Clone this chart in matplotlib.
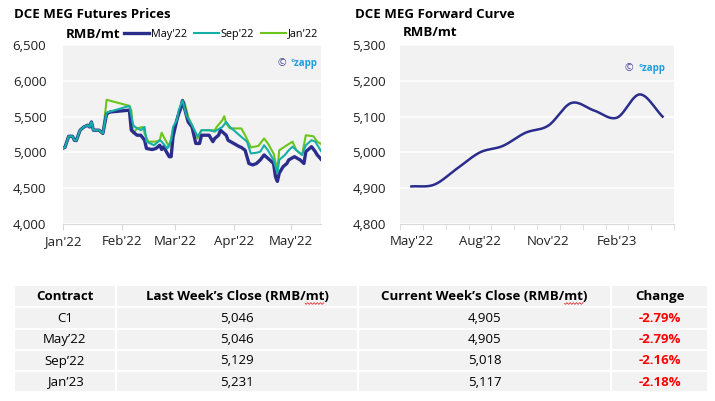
import matplotlib
matplotlib.use("Agg")
import matplotlib.pyplot as plt
import matplotlib.dates as mdates
from matplotlib.patches import Rectangle
from matplotlib.font_manager import FontProperties
import numpy as np
import pandas as pd

plt.rcParams['font.family'] = ['Open Sans', 'DejaVu Sans']

# ---- left chart: futures prices (RMB/mt) ----
early_dates = ['2022-01-01', '2022-01-02', '2022-01-04', '2022-01-06', '2022-01-07', '2022-01-08',
               '2022-01-10', '2022-01-12', '2022-01-14', '2022-01-15', '2022-01-16', '2022-01-17',
               '2022-01-20', '2022-01-22']
early_vals = [5060, 5070, 5225, 5225, 5170, 5165, 5310, 5355, 5380, 5355, 5425, 5310, 5310, 5265]

may22_dates = ['2022-01-24', '2022-01-26', '2022-02-05', '2022-02-06', '2022-02-07', '2022-02-09',
               '2022-02-11', '2022-02-13', '2022-02-14', '2022-02-17', '2022-02-19', '2022-02-21',
               '2022-02-22', '2022-02-23', '2022-02-25', '2022-02-26', '2022-02-27', '2022-02-28',
               '2022-03-02', '2022-03-03', '2022-03-04', '2022-03-05', '2022-03-07', '2022-03-08',
               '2022-03-10', '2022-03-12', '2022-03-14', '2022-03-15', '2022-03-19', '2022-03-21',
               '2022-03-22', '2022-03-24', '2022-03-25', '2022-03-28', '2022-03-29', '2022-04-01',
               '2022-04-04', '2022-04-05', '2022-04-07', '2022-04-09', '2022-04-11', '2022-04-13',
               '2022-04-15', '2022-04-17', '2022-04-18', '2022-04-20', '2022-04-22', '2022-04-23',
               '2022-04-24', '2022-04-25', '2022-04-27', '2022-04-29', '2022-04-30', '2022-05-03',
               '2022-05-06', '2022-05-08', '2022-05-09', '2022-05-12', '2022-05-14', '2022-05-15',
               '2022-05-17']
may22_vals = [5540, 5565, 5590, 5310, 5285, 5240,
              5240, 5170, 5055, 5040, 5055, 5100,
              5040, 5080, 4985, 4940, 4940, 5220,
              5450, 5540, 5610, 5725, 5520, 5425,
              5355, 5125, 5125, 5240, 5240, 5150,
              5195, 5240, 5310, 5240, 5170, 5125,
              5080, 5070, 5030, 4845, 4825, 4845,
              4895, 4965, 4940, 4895, 4845, 4660,
              4595, 4710, 4800, 4845, 4895, 4940,
              4895, 4845, 5010, 5080, 5010, 4965,
              4905]

sep22_dates = ['2022-01-24', '2022-02-05', '2022-02-07', '2022-02-08', '2022-02-11', '2022-02-13',
               '2022-02-14', '2022-02-18', '2022-02-21', '2022-02-22', '2022-02-25', '2022-02-27',
               '2022-02-28', '2022-03-02', '2022-03-03', '2022-03-05', '2022-03-07', '2022-03-10',
               '2022-03-13', '2022-03-15', '2022-03-19', '2022-03-22', '2022-03-23', '2022-03-26',
               '2022-03-28', '2022-03-30', '2022-04-01', '2022-04-04', '2022-04-08', '2022-04-10',
               '2022-04-13', '2022-04-15', '2022-04-17', '2022-04-19', '2022-04-22', '2022-04-24',
               '2022-04-25', '2022-04-28', '2022-04-30', '2022-05-02', '2022-05-04', '2022-05-07',
               '2022-05-09', '2022-05-12', '2022-05-14', '2022-05-17']
sep22_vals = [5555, 5650, 5380, 5355, 5310, 5355,
              5150, 5100, 5170, 5150, 5055, 5170,
              5355, 5450, 5590, 5725, 5520, 5380,
              5220, 5310, 5310, 5290, 5310, 5355,
              5425, 5355, 5310, 5240, 5150, 4985,
              4995, 5010, 5100, 5030, 4895, 4710,
              4895, 4965, 5030, 5080, 5030, 4965,
              5100, 5170, 5150, 5018]

jan23_dates = ['2022-01-24', '2022-02-05', '2022-02-06', '2022-02-07', '2022-02-09', '2022-02-12',
               '2022-02-13', '2022-02-15', '2022-02-19', '2022-02-21', '2022-02-22', '2022-02-24',
               '2022-02-26', '2022-02-28', '2022-03-02', '2022-03-04', '2022-03-06', '2022-03-08',
               '2022-03-10', '2022-03-13', '2022-03-15', '2022-03-22', '2022-03-23', '2022-03-26',
               '2022-03-27', '2022-03-28', '2022-03-30', '2022-04-05', '2022-04-07', '2022-04-10',
               '2022-04-14', '2022-04-17', '2022-04-19', '2022-04-22', '2022-04-24', '2022-04-25',
               '2022-04-29', '2022-05-02', '2022-05-04', '2022-05-07', '2022-05-09', '2022-05-13',
               '2022-05-15', '2022-05-17']
jan23_vals = [5735, 5650, 5590, 5265, 5335, 5355,
              5265, 5150, 5150, 5170, 5275, 5170,
              5080, 5310, 5450, 5635, 5705, 5495,
              5380, 5195, 5310, 5310, 5355, 5450,
              5505, 5405, 5335, 5335, 5240, 5070,
              5090, 5195, 5125, 4985, 4755, 5030,
              5100, 5150, 5030, 4965, 5240, 5225,
              5150, 5117]

series_labels = ["May'22", "Sep'22", "Jan'22"]
month_ticks = ['2022-01-01', '2022-02-01', '2022-03-01', '2022-04-01', '2022-05-01']

# ---- right chart: forward curve ----
fwd_months = ["May'22", "Jun'22", "Jul'22", "Aug'22", "Sep'22", "Oct'22",
              "Nov'22", "Dec'22", "Jan'23", "Feb'23", "Mar'23", "Apr'23"]
fwd_vals = [4905, 4910, 4955, 5000, 5018, 5055, 5075, 5138, 5117, 5097, 5162, 5100]

# ---- table ----
tbl_header = ['Contract', 'Last Week\u2019s Close (RMB/mt)', 'Current Week\u2019s Close (RMB/mt)', 'Change']
tbl_contract = ['C1', 'May\u201922', 'Sep\u201922', 'Jan\u201923']
tbl_last = [5046, 5046, 5129, 5231]
tbl_current = [4905, 4905, 5018, 5117]
tbl_change = ['-2.79%', '-2.79%', '-2.16%', '-2.18%']

NAVY = '#2b2d8c'
TEAL = '#17aea8'
GREEN = '#6cc51a'
BG = '#f2f2f2'
TXT = '#1f1f1f'

W, H = 715, 401
fig = plt.figure(figsize=(W / 100, H / 100), dpi=100)


def px_axes(x0, y0, x1, y1):
    return fig.add_axes([x0 / W, 1 - y1 / H, (x1 - x0) / W, (y1 - y0) / H])


def style(ax):
    ax.set_facecolor(BG)
    for s in ['top', 'right', 'left']:
        ax.spines[s].set_visible(False)
    ax.spines['bottom'].set_color('#d9d9d9')
    ax.grid(axis='y', color='white', linewidth=1.2)
    ax.set_axisbelow(True)
    ax.tick_params(axis='y', length=0, labelsize=9.5, labelcolor=TXT, pad=12)
    ax.tick_params(axis='x', length=4, color='#d9d9d9', labelsize=9.5, labelcolor=TXT, pad=4)


def watermark(ax, x, y):
    ax.text(x, y, '\u00a9', transform=ax.transAxes, color='#3b3b9b', fontsize=7.5,
            ha='left', va='center')
    ax.text(x + 0.05, y, '\u1d9czapp', transform=ax.transAxes, color='#1f9fe2', fontsize=7,
            fontweight='bold', ha='left', va='center')


# left chart
ax1 = px_axes(63, 45, 321, 224)
style(ax1)
ax1.plot(pd.to_datetime(early_dates + jan23_dates), early_vals + jan23_vals,
         color=GREEN, lw=1.5, zorder=2)
l1, = ax1.plot(pd.to_datetime(early_dates + may22_dates), early_vals + may22_vals,
               color=NAVY, lw=2.4, zorder=3)
l2, = ax1.plot(pd.to_datetime(early_dates + sep22_dates), early_vals + sep22_vals,
               color=TEAL, lw=1.5, zorder=4)
l3 = matplotlib.lines.Line2D([], [], color=GREEN, lw=1.5)
ax1.set_ylim(4000, 6500)
ax1.set_yticks(np.arange(4000, 6501, 500))
ax1.yaxis.set_major_formatter(matplotlib.ticker.StrMethodFormatter('{x:,.0f}'))
ax1.set_xlim(pd.Timestamp('2022-01-01'), pd.Timestamp('2022-05-17'))
ax1.set_xticks(pd.to_datetime(month_ticks))
ax1.xaxis.set_major_formatter(mdates.DateFormatter("%b'%y"))
ax1.legend([l1, l2, l3], series_labels, loc='center right', bbox_to_anchor=(0.99, 1.061),
           ncol=3, frameon=False, fontsize=7.8, handlelength=2.3, handletextpad=0.2,
           columnspacing=0.6, borderaxespad=0, borderpad=0)
fig.text(14 / W, 1 - 15 / H, 'DCE MEG Futures Prices', fontsize=9.5, fontweight='bold',
         color='black', va='center', ha='left')
fig.text(66 / W, 1 - 34 / H, 'RMB/mt', fontsize=9.5, fontweight='bold',
         color='black', va='center', ha='left')
watermark(ax1, 0.83, 0.895)

# right chart (category axis, smoothed line)
ax2 = px_axes(400, 45, 674, 224)
style(ax2)
xs = np.arange(len(fwd_vals))
ys = np.array(fwd_vals, dtype=float)
# Catmull-Rom smoothing for drawing only
pts = np.concatenate([[2 * ys[0] - ys[1]], ys, [2 * ys[-1] - ys[-2]]])
sx, sy = [], []
for i in range(len(ys) - 1):
    p0, p1, p2, p3 = pts[i], pts[i + 1], pts[i + 2], pts[i + 3]
    t = np.linspace(0, 1, 30)
    seg = 0.5 * (2 * p1 + (-p0 + p2) * t + (2 * p0 - 5 * p1 + 4 * p2 - p3) * t ** 2
                 + (-p0 + 3 * p1 - 3 * p2 + p3) * t ** 3)
    sx.append(xs[i] + t)
    sy.append(seg)
ax2.plot(np.concatenate(sx), np.concatenate(sy), color=NAVY, lw=1.8)
ax2.set_xlim(-0.5, len(fwd_vals) - 0.5)
ax2.set_ylim(4800, 5300)
ax2.set_yticks(np.arange(4800, 5301, 100))
ax2.yaxis.set_major_formatter(matplotlib.ticker.StrMethodFormatter('{x:,.0f}'))
ax2.set_xticks(np.arange(-0.5, len(fwd_vals), 1), minor=True)
ax2.set_xticks(xs[::3])
ax2.set_xticklabels(fwd_months[::3])
ax2.tick_params(axis='x', which='major', length=0, pad=8)
ax2.tick_params(axis='x', which='minor', length=4, color='#d9d9d9')
ax2.tick_params(axis='y', pad=10)
fig.text(355 / W, 1 - 14 / H, 'DCE MEG Forward Curve', fontsize=9.5, fontweight='bold',
         color='black', va='center', ha='left')
fig.text(403 / W, 1 - 33 / H, 'RMB/mt', fontsize=9.5, fontweight='bold',
         color='black', va='center', ha='left')
watermark(ax2, 0.82, 0.87)

# table
col_edges = [14, 116, 358, 611, 708]
row_edges = [285, 307, 328.5, 350, 371, 392]
axt = fig.add_axes([0, 0, 1, 1], zorder=-1)
axt.set_xlim(0, W)
axt.set_ylim(H, 0)
axt.axis('off')
renderer = fig.canvas.get_renderer()
rows = [tbl_header] + [[c, f'{a:,}', f'{b:,}', d] for c, a, b, d in
                       zip(tbl_contract, tbl_last, tbl_current, tbl_change)]
for r, row in enumerate(rows):
    for c, val in enumerate(row):
        x0, x1 = col_edges[c], col_edges[c + 1]
        y0, y1 = row_edges[r], row_edges[r + 1]
        axt.add_patch(Rectangle((x0, y0), x1 - x0, y1 - y0, facecolor=BG,
                                edgecolor='white', lw=1.5))
        bold = r == 0 or c == 3
        color = 'black' if (r == 0 or c < 3) else '#ff0000'
        xc, yc = (x0 + x1) / 2, (y0 + y1) / 2 + 0.5
        axt.text(xc, yc, val, ha='center', va='center',
                 fontsize=9.5, fontweight='bold' if bold else 'normal', color=color)
        # spell-check squiggle under "mt" in the header
        if r == 0 and 'mt)' in val:
            fp = FontProperties(family=['Open Sans', 'DejaVu Sans'], size=9.5, weight='bold')
            wfull = renderer.get_text_width_height_descent(val, fp, ismath=False)[0]
            i = val.index('mt)')
            wa = renderer.get_text_width_height_descent(val[:i], fp, ismath=False)[0]
            wb = renderer.get_text_width_height_descent(val[:i + 2], fp, ismath=False)[0]
            left = xc - wfull / 2
            wx = np.linspace(left + wa, left + wb, 30)
            wy = y1 - 3.5 + 0.8 * np.sin((wx - wx[0]) * 2 * np.pi / 3.2)
            axt.plot(wx, wy, color='#e03030', lw=0.6)

fig.savefig('out.png', dpi=100)
